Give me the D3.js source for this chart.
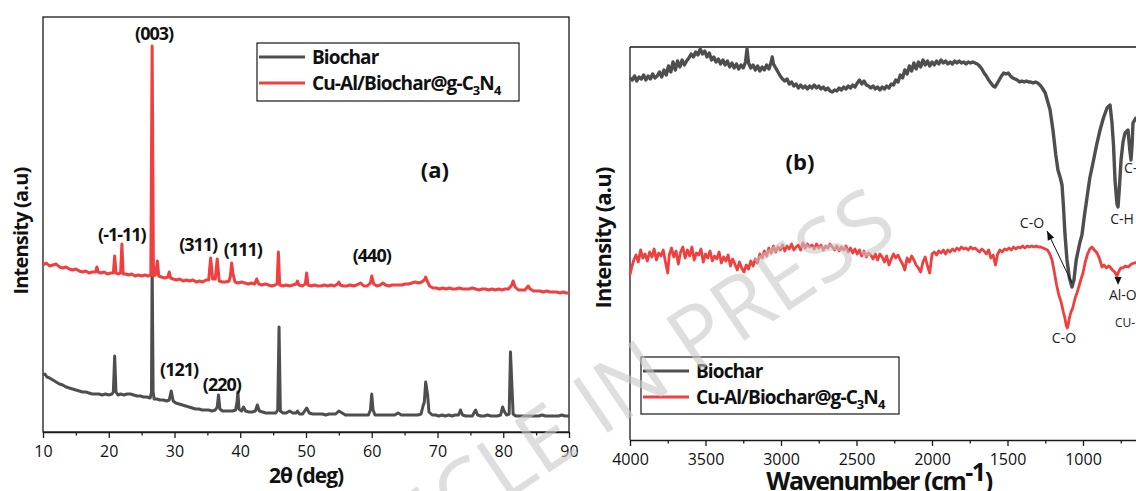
<!DOCTYPE html>
<html>
<head>
<meta charset="utf-8">
<script src="https://cdn.jsdelivr.net/npm/d3@7"></script>
<style>
  body { margin: 0; background: #fff; }
  svg { display: block; }
  text { font-family: "Open Sans", "DejaVu Sans", sans-serif; }
</style>
</head>
<body>
<svg id="fig" width="1136" height="491"></svg>
<script>
// ---------- XRD (panel a) ----------
const xrdTicks = [10, 20, 30, 40, 50, 60, 70, 80, 90];
const xrdMinorTicks = [15, 25, 35, 45, 55, 65, 75, 85];

// [2θ (deg), intensity (a.u.)]
const xrdBiochar = [
  [10,57],[10.3,58],[10.6,55],[11,54],[11.5,52],[12,50],[12.5,48],[13,47],[13.5,45],[14,44],[14.5,43],[15,42],
  [15.5,41],[16,40],[16.5,40],[17,39],[17.5,38],[18,38],[18.5,38],[19,37],[19.5,38],[20,37],[20.5,38],[20.7,40],
  [20.9,76],[21.1,40],[21.4,37],[21.8,38],[22.3,37],[22.8,38],[23.3,38],[23.8,37],[24.3,36],[24.8,36],[25.3,35],
  [25.8,35],[26.3,34],[26.5,40],[26.6,167],[26.75,40],[26.9,33],[27.3,33],[27.8,32],[28.3,32],[28.8,31],[29.2,32],
  [29.5,41],[29.8,31],[30.2,29],[30.7,28],[31.2,27],[31.7,26],[32.2,25],[32.7,24],[33.2,23],[33.7,23],[34.2,22],
  [34.7,22],[35.2,22],[35.7,21],[36.2,22],[36.5,25],[36.7,37],[36.9,23],[37.3,21],[37.8,21],[38.3,21],[38.8,21],
  [39.3,22],[39.5,30],[39.65,40],[39.8,23],[40.2,21],[40.5,25],[40.8,21],[41.3,20],[41.8,20],[42.3,21],[42.6,27],
  [42.9,21],[43.4,20],[43.9,19],[44.4,19],[44.9,19],[45.4,19],[45.7,22],[45.9,105],[46.1,21],[46.5,19],[47,19],
  [47.5,21],[48,19],[48.5,19],[48.7,21],[49,18],[49.5,18],[50.1,24],[50.5,19],[51,18],[51.5,18],[52,18],[52.5,18],
  [53,17],[53.5,18],[54,18],[54.5,18],[55,21],[55.5,19],[56,17],[56.5,17],[57,17],[57.5,17],[58,17],[58.5,17],
  [59,17],[59.5,17],[59.8,22],[60,38],[60.2,22],[60.5,17],[61,17],[61.5,17],[62,17],[62.5,17],[63,17],[63.5,17],
  [64,19],[64.5,17],[65,17],[65.5,17],[66,17],[66.5,17],[67,17],[67.5,18],[67.8,26],[68.0,30],[68.2,50],[68.5,37],
  [68.7,20],[69.2,17],[69.7,17],[70.2,16],[70.7,17],[71.2,16],[71.7,17],[72.2,16],[72.7,17],[73.2,17],[73.5,22],
  [73.8,17],[74.3,16],[74.8,16],[75.3,16],[75.8,22],[76.1,17],[76.6,16],[77.1,16],[77.6,17],[78.1,16],[78.6,16],
  [79.1,16],[79.6,17],[79.9,25],[80.2,20],[80.5,17],[80.9,18],[81.1,80],[81.3,49],[81.5,18],[81.9,16],[82.4,16],
  [82.9,16],[83.4,16],[83.9,16],[84.4,16],[84.9,16],[85.4,16],[85.9,17],[86.4,16],[86.9,16],[87.4,16],[87.9,16],
  [88.4,16],[88.9,17],[89.4,16],[90,16]
];

const xrdComposite = [
  [10,167],[10.5,169],[11,166],[11.5,167],[12,168],[12.5,165],[13,164],[13.5,165],[14,163],[14.5,162],[15,163],
  [15.5,161],[16,160],[16.5,161],[17,159],[17.5,160],[18,160],[18.2,165],[18.4,160],[18.8,159],[19.3,160],
  [19.8,158],[20.3,159],[20.7,159],[20.9,176],[21.1,159],[21.5,158],[21.8,159],[22.0,188],[22.2,158],[22.6,158],
  [23,157],[23.5,158],[24,156],[24.5,157],[25,156],[25.5,157],[26,156],[26.4,157],[26.6,386],[26.8,156],[27.1,157],
  [27.4,171],[27.6,156],[28,155],[28.5,154],[29,155],[29.2,160],[29.4,154],[29.8,153],[30.3,152],[30.8,153],
  [31.3,151],[31.8,152],[32.3,151],[32.8,152],[33.3,150],[33.8,151],[34.3,150],[34.8,152],[35.2,152],[35.5,174],
  [35.8,153],[36.2,153],[36.5,173],[36.8,151],[37.3,150],[37.8,150],[38.3,151],[38.5,156],[38.7,169],[38.9,158],
  [39.2,150],[39.7,149],[40.2,150],[40.7,149],[41.2,148],[41.7,149],[42.2,148],[42.5,153],[42.8,148],[43.3,147],
  [43.8,148],[44.3,147],[44.8,146],[45.3,147],[45.6,148],[45.8,180],[46.0,147],[46.5,146],[47,147],[47.5,146],
  [48,147],[48.5,148],[48.7,151],[48.9,147],[49.4,146],[49.9,148],[50.1,159],[50.3,147],[50.8,146],[51.3,147],
  [51.8,146],[52.3,146],[52.8,147],[53.3,146],[53.8,147],[54.3,146],[54.8,148],[55,150],[55.2,147],[55.7,146],
  [56.2,146],[56.7,147],[57.2,146],[57.7,147],[58.3,149],[58.8,146],[59.3,146],[59.8,149],[60,156],[60.3,148],
  [60.8,146],[61.3,147],[61.7,149],[62.1,147],[62.6,146],[63.1,147],[63.6,147],[64.1,147],[64.6,147],[65.1,148],
  [65.6,148],[66.1,149],[66.6,150],[67.1,149],[67.6,150],[68.0,152],[68.2,155],[68.5,150],[68.8,146],[69.3,144],
  [69.8,144],[70.3,143],[70.8,144],[71.3,143],[71.8,144],[72.3,143],[72.8,143],[73.3,144],[73.8,143],[74.3,143],
  [74.8,143],[75.3,144],[75.8,143],[76.3,142],[76.8,143],[77.3,143],[77.8,142],[78.3,143],[78.8,142],[79.3,143],
  [79.8,142],[80.3,143],[80.8,143],[81.3,147],[81.5,151],[81.8,145],[82.3,142],[82.8,142],[83.3,142],[83.8,146],
  [84.1,143],[84.6,141],[85.1,141],[85.6,141],[86.1,140],[86.6,141],[87.1,140],[87.6,140],[88.1,140],[88.6,139],
  [89.1,140],[89.6,139],[90,139]
];

// Miller-index labels: [text, 2θ, intensity]
const xrdPeakLabels = [
  ["(003)", 26.9, 392], ["(-1-11)", 22.0, 191], ["(311)", 33.6, 181], ["(111)", 40.4, 176],
  ["(440)", 60.0, 170], ["(121)", 30.7, 56], ["(220)", 37.2, 41]
];

// ---------- FTIR (panel b) ----------
const ftirTicks = [4000, 3500, 3000, 2500, 2000, 1500, 1000];
const ftirMinorTicks = [3750, 3250, 2750, 2250, 1750, 1250, 750];

// [wavenumber (cm-1), transmittance (a.u.)]
const ftirBiochar = [
  [4000,362],[3985,360],[3970,364],[3955,359],[3940,363],[3925,361],[3910,365],[3895,360],[3880,364],[3865,361],
  [3850,366],[3835,362],[3820,364],[3805,368],[3790,363],[3775,370],[3760,365],[3745,374],[3730,368],[3715,378],
  [3700,370],[3685,379],[3670,373],[3655,380],[3640,375],[3625,379],[3610,382],[3595,386],[3580,383],[3565,388],
  [3550,385],[3535,391],[3520,386],[3505,389],[3490,383],[3475,387],[3460,380],[3445,383],[3430,378],[3415,381],
  [3400,376],[3385,380],[3370,375],[3355,379],[3340,373],[3325,377],[3310,372],[3295,376],[3280,371],[3265,375],
  [3250,372],[3235,378],[3225,391],[3215,377],[3200,372],[3185,375],[3170,370],[3155,374],[3140,369],[3125,373],
  [3110,370],[3095,375],[3080,371],[3065,378],[3058,383],[3050,376],[3035,372],[3020,368],[3005,364],[2990,361],
  [2975,359],[2960,361],[2945,356],[2930,358],[2915,354],[2900,356],[2885,352],[2870,355],[2855,352],[2840,354],
  [2825,351],[2810,354],[2795,352],[2780,355],[2765,352],[2750,354],[2735,351],[2720,353],[2705,350],[2690,352],
  [2675,349],[2660,348],[2645,350],[2630,349],[2615,352],[2600,350],[2585,353],[2570,351],[2555,354],[2540,352],
  [2525,355],[2510,353],[2495,357],[2480,360],[2465,356],[2450,359],[2435,355],[2420,354],[2405,352],[2390,354],
  [2375,351],[2360,353],[2345,350],[2330,353],[2315,351],[2300,354],[2285,352],[2270,356],[2255,355],[2240,360],
  [2225,358],[2210,365],[2195,362],[2180,370],[2165,366],[2150,374],[2135,369],[2120,377],[2105,371],[2090,378],
  [2075,373],[2060,380],[2045,375],[2030,379],[2015,374],[2000,378],[1985,375],[1970,379],[1955,376],[1940,380],
  [1925,377],[1910,379],[1895,376],[1880,378],[1865,376],[1850,379],[1835,377],[1820,379],[1805,377],[1790,378],
  [1775,376],[1760,378],[1745,377],[1730,378],[1715,377],[1700,376],[1685,374],[1670,371],[1655,367],[1640,364],
  [1625,360],[1610,357],[1595,354],[1583,353],[1570,356],[1555,360],[1540,364],[1525,367],[1510,366],[1495,367],
  [1480,364],[1465,362],[1450,361],[1435,360],[1420,358],[1405,359],[1390,358],[1375,359],[1360,358],[1345,358],
  [1330,357],[1315,358],[1300,357],[1285,355],[1270,352],[1250,347],[1218,330],[1199,310],[1180,285],[1166,270],
  [1150,262],[1139,255],[1130,235],[1119,205],[1106,180],[1090,162],[1073,153],[1060,160],[1045,180],[1020,198],
  [1007,205],[990,225],[973,243],[955,262],[934,277],[910,295],[887,310],[865,322],[841,332],[821,335],[808,317],
  [798,295],[788,260],[775,236],[768,233],[760,250],[748,280],[735,298],[722,307],[702,310],[690,290],[682,280],
  [675,295],[669,317],[649,322],[600,325]
];

const ftirComposite = [
  [4000,165],[3990,172],[3975,180],[3960,185],[3945,178],[3930,190],[3915,182],[3900,186],[3885,179],[3870,188],
  [3855,183],[3840,191],[3825,180],[3810,187],[3795,184],[3780,190],[3765,178],[3750,167],[3740,185],[3725,192],
  [3710,183],[3695,189],[3680,176],[3665,188],[3650,193],[3635,182],[3620,190],[3605,184],[3590,193],[3575,180],
  [3560,187],[3545,185],[3530,191],[3515,178],[3500,186],[3485,182],[3470,189],[3455,179],[3440,184],[3425,181],
  [3410,188],[3395,177],[3380,183],[3365,179],[3350,185],[3335,174],[3320,181],[3305,176],[3290,170],[3275,178],
  [3260,172],[3245,168],[3230,175],[3215,171],[3200,179],[3185,174],[3170,181],[3155,177],[3140,186],[3125,182],
  [3110,189],[3095,184],[3080,192],[3065,187],[3050,194],[3035,188],[3020,193],[3005,190],[2990,195],[2975,189],
  [2960,194],[2945,191],[2930,196],[2915,190],[2900,193],[2885,195],[2870,190],[2855,197],[2840,192],[2825,196],
  [2810,193],[2795,195],[2780,191],[2765,196],[2750,192],[2735,195],[2720,190],[2705,194],[2690,192],[2675,196],
  [2660,193],[2645,190],[2630,194],[2615,189],[2600,193],[2585,190],[2570,194],[2555,188],[2540,192],[2525,187],
  [2510,191],[2495,186],[2480,190],[2465,184],[2450,189],[2435,183],[2420,187],[2405,185],[2390,181],[2375,186],
  [2360,180],[2345,186],[2330,183],[2315,178],[2300,184],[2285,175],[2270,181],[2255,186],[2240,182],[2225,185],
  [2210,180],[2195,176],[2180,170],[2165,182],[2150,178],[2135,184],[2120,180],[2105,175],[2090,172],[2075,168],
  [2060,178],[2045,183],[2030,174],[2015,167],[2000,186],[1985,188],[1970,185],[1955,189],[1940,187],[1925,190],
  [1910,186],[1895,190],[1880,188],[1865,191],[1850,189],[1835,192],[1820,190],[1805,193],[1790,191],[1775,192],
  [1760,190],[1745,193],[1730,191],[1715,192],[1700,190],[1685,188],[1670,191],[1655,189],[1640,186],[1625,190],
  [1610,182],[1595,185],[1580,175],[1565,186],[1550,190],[1535,188],[1520,191],[1505,190],[1490,192],[1475,190],
  [1460,193],[1445,191],[1430,193],[1415,192],[1400,194],[1385,192],[1370,194],[1355,193],[1340,194],[1325,193],
  [1310,194],[1295,193],[1280,193],[1265,192],[1250,191],[1235,190],[1220,186],[1205,180],[1190,168],[1175,155],
  [1160,145],[1145,138],[1130,128],[1120,122],[1110,114],[1104,112],[1098,115],[1090,122],[1080,128],[1070,131],
  [1060,137],[1050,143],[1040,147],[1030,152],[1015,160],[1000,167],[985,178],[970,186],[955,191],[941,193],
  [925,190],[907,187],[890,181],[874,173],[860,175],[845,172],[830,174],[821,173],[805,170],[790,168],[775,164],
  [765,168],[750,172],[735,172],[720,174],[700,173],[680,176],[660,177],[640,178],[600,179]
];

// Band assignments: [text, wavenumber, transmittance, anchor, size]
const ftirBandLabels = [
  ["C-O", 1338, 212, "middle", 14], ["C-H", 742, 216, "middle", 14], ["C-", 728, 267, "start", 14],
  ["C-O", 1126, 97, "middle", 14], ["Al-O", 828, 140, "start", 14], ["CU-", 788, 113, "start", 12]
];
const seriesNames = ["Biochar", "Cu-Al/Biochar@g-C3N4"];

// ---------- drawing ----------
const GREY = "#4e4e4e", RED = "#ef3f3f", INK = "#1a1a1a";
const svg = d3.select("#fig");
svg.append("rect").attr("width", 1136).attr("height", 491).attr("fill", "#fff");

function legendName(sel, name) {
  // renders "...C3N4" with subscript digits
  const m = name.match(/^(.*C)3N4$/);
  if (!m) { sel.text(name); return; }
  sel.append("tspan").text(m[1]);
  sel.append("tspan").text("3").attr("font-size", "0.68em").attr("dy", 5);
  sel.append("tspan").text("N").attr("dy", -5);
  sel.append("tspan").text("4").attr("font-size", "0.68em").attr("dy", 5);
}

function drawLegend(g, x, y, w, h) {
  g.append("rect").attr("x", x).attr("y", y).attr("width", w).attr("height", h)
    .attr("fill", "#fff").attr("stroke", INK).attr("stroke-width", 1.2);
  [GREY, RED].forEach((c, i) => {
    const ly = y + 14 + i * 26;
    g.append("line").attr("x1", x + 2).attr("x2", x + 48).attr("y1", ly).attr("y2", ly)
      .attr("stroke", c).attr("stroke-width", 3);
    const t = g.append("text").attr("x", x + 55).attr("y", ly + 7)
      .attr("font-size", 19).attr("font-weight", 700).attr("letter-spacing", -0.9).attr("fill", "#111");
    legendName(t, seriesNames[i]);
  });
}

// ----- panel (a) -----
const xA = d3.scaleLinear().domain([10, 90]).range([43, 569]);
const yA = d3.scaleLinear().domain([0, 415]).range([432, 17]);
const gA = svg.append("g");

gA.append("rect").attr("x", xA(10)).attr("y", yA(415)).attr("width", xA(90) - xA(10))
  .attr("height", yA(0) - yA(415)).attr("fill", "none").attr("stroke", INK).attr("stroke-width", 1.3);

const lineA = d3.line().x(d => xA(d[0])).y(d => yA(d[1]));
gA.append("path").datum(xrdBiochar).attr("d", lineA).attr("fill", "none")
  .attr("stroke", GREY).attr("stroke-width", 3).attr("stroke-linejoin", "round");
gA.append("path").datum(xrdComposite).attr("d", lineA).attr("fill", "none")
  .attr("stroke", RED).attr("stroke-width", 3).attr("stroke-linejoin", "round");

gA.append("g").attr("transform", `translate(0,${yA(0)})`)
  .call(d3.axisBottom(xA).tickValues(xrdTicks).tickSize(6).tickSizeOuter(0).tickPadding(8));
gA.append("g").attr("transform", `translate(0,${yA(0)})`)
  .call(d3.axisBottom(xA).tickValues(xrdMinorTicks).tickSize(3.5).tickFormat(""))
  .select(".domain").remove();

gA.selectAll(".tick text").attr("font-size", 16).attr("fill", "#111")
  .attr("font-family", "'Open Sans', sans-serif");
gA.selectAll(".tick line, .domain").attr("stroke", INK).attr("stroke-width", 1.3);

gA.selectAll("text.peak").data(xrdPeakLabels).join("text").attr("class", "peak")
  .attr("x", d => xA(d[1])).attr("y", d => yA(d[2])).attr("text-anchor", "middle")
  .attr("font-size", 18).attr("font-weight", 700).attr("letter-spacing", -1).attr("fill", "#111")
  .text(d => d[0]);

gA.append("text").attr("x", xA(69.6)).attr("y", yA(254)).attr("text-anchor", "middle")
  .attr("font-size", 22).attr("font-weight", 700).attr("fill", "#111").text("(a)");

gA.append("text").attr("x", (xA(10) + xA(90)) / 2).attr("y", 483).attr("text-anchor", "middle")
  .attr("font-size", 21).attr("font-weight", 700).attr("letter-spacing", -1).attr("fill", "#111")
  .text("2θ (deg)");
gA.append("text").attr("transform", "translate(28,231) rotate(-90)").attr("text-anchor", "middle")
  .attr("font-size", 20).attr("font-weight", 700).attr("letter-spacing", -0.8).attr("fill", "#111")
  .text("Intensity (a.u)");

drawLegend(gA, 257, 43, 262, 58);

// ----- panel (b) -----
const xB = d3.scaleLinear().domain([4000, 400]).range([630, 630 + 3600 * 0.151]);
const yB = d3.scaleLinear().domain([0, 393]).range([440, 47]);
const gB = svg.append("g");

gB.append("line").attr("x1", xB(4000)).attr("x2", 1136).attr("y1", yB(393)).attr("y2", yB(393))
  .attr("stroke", INK).attr("stroke-width", 1.3);
gB.append("line").attr("x1", xB(4000)).attr("x2", xB(4000)).attr("y1", yB(393)).attr("y2", yB(0))
  .attr("stroke", INK).attr("stroke-width", 1.3);

const lineB = d3.line().x(d => xB(d[0])).y(d => yB(d[1]));
gB.append("path").datum(ftirBiochar).attr("d", lineB).attr("fill", "none")
  .attr("stroke", GREY).attr("stroke-width", 3.4).attr("stroke-linejoin", "round");
gB.append("path").datum(ftirComposite).attr("d", lineB).attr("fill", "none")
  .attr("stroke", RED).attr("stroke-width", 2.8).attr("stroke-linejoin", "round");

gB.append("g").attr("transform", `translate(0,${yB(0)})`)
  .call(d3.axisBottom(xB).tickValues(ftirTicks).tickSize(6).tickSizeOuter(0).tickPadding(8)
    .tickFormat(d3.format("d")));
gB.append("g").attr("transform", `translate(0,${yB(0)})`)
  .call(d3.axisBottom(xB).tickValues(ftirMinorTicks).tickSize(3.5).tickFormat(""))
  .select(".domain").remove();
gB.selectAll(".tick text").attr("font-size", 16).attr("fill", "#111")
  .attr("font-family", "'Open Sans', sans-serif");
gB.selectAll(".tick line, .domain").attr("stroke", INK).attr("stroke-width", 1.3);

gB.append("text").attr("x", xB(2874)).attr("y", yB(270)).attr("text-anchor", "middle")
  .attr("font-size", 22).attr("font-weight", 700).attr("fill", "#111").text("(b)");

gB.selectAll("text.band").data(ftirBandLabels).join("text").attr("class", "band")
  .attr("x", d => xB(d[1])).attr("y", d => yB(d[2])).attr("text-anchor", d => d[3])
  .attr("font-size", d => d[4]).attr("font-family", "'DejaVu Sans', sans-serif").attr("fill", "#222")
  .text(d => d[0]);

// arrow from the C-O band minimum to its label
{
  const p0 = [xB(1073), yB(157)], p1 = [xB(1238), yB(209)];
  const ang = Math.atan2(p1[1] - p0[1], p1[0] - p0[0]);
  const L = 9, W = 3.5;
  gB.append("line").attr("x1", p0[0]).attr("y1", p0[1]).attr("x2", p1[0]).attr("y2", p1[1])
    .attr("stroke", "#111").attr("stroke-width", 1);
  const bx = p1[0] - L * Math.cos(ang), by = p1[1] - L * Math.sin(ang);
  gB.append("path").attr("fill", "#111").attr("d",
    `M${p1[0]},${p1[1]}L${bx + W * Math.sin(ang)},${by - W * Math.cos(ang)}L${bx - W * Math.sin(ang)},${by + W * Math.cos(ang)}Z`);
  // small marker under the Al-O band
  const mx = xB(768), mt = yB(163), mb = yB(155);
  gB.append("path").attr("fill", "#111").attr("d", `M${mx - 3.5},${mt}L${mx + 3.5},${mt}L${mx},${mb}Z`);
}

gB.append("text").attr("transform", "translate(611,238) rotate(-90)").attr("text-anchor", "middle")
  .attr("font-size", 22).attr("font-weight", 700).attr("letter-spacing", -0.8).attr("fill", "#111")
  .text("Intensity (a.u)");

{
  const t = gB.append("text").attr("x", 879).attr("y", 490).attr("text-anchor", "middle")
    .attr("font-size", 25).attr("font-weight", 700).attr("letter-spacing", -1.5).attr("fill", "#111");
  t.append("tspan").text("Wavenumber (cm");
  t.append("tspan").text("-1").attr("dy", -9);
  t.append("tspan").text(")").attr("dy", 9);
}

drawLegend(gB, 641, 357, 258, 57);

// watermark
svg.append("text").attr("transform", "translate(901,235) rotate(-34)").attr("text-anchor", "end")
  .attr("font-family", "'Liberation Sans', Arial, sans-serif").attr("font-size", 87)
  .attr("fill", "#c8c8c8").attr("fill-opacity", 0.6).text("ARTICLE IN PRESS");
</script>
</body>
</html>
